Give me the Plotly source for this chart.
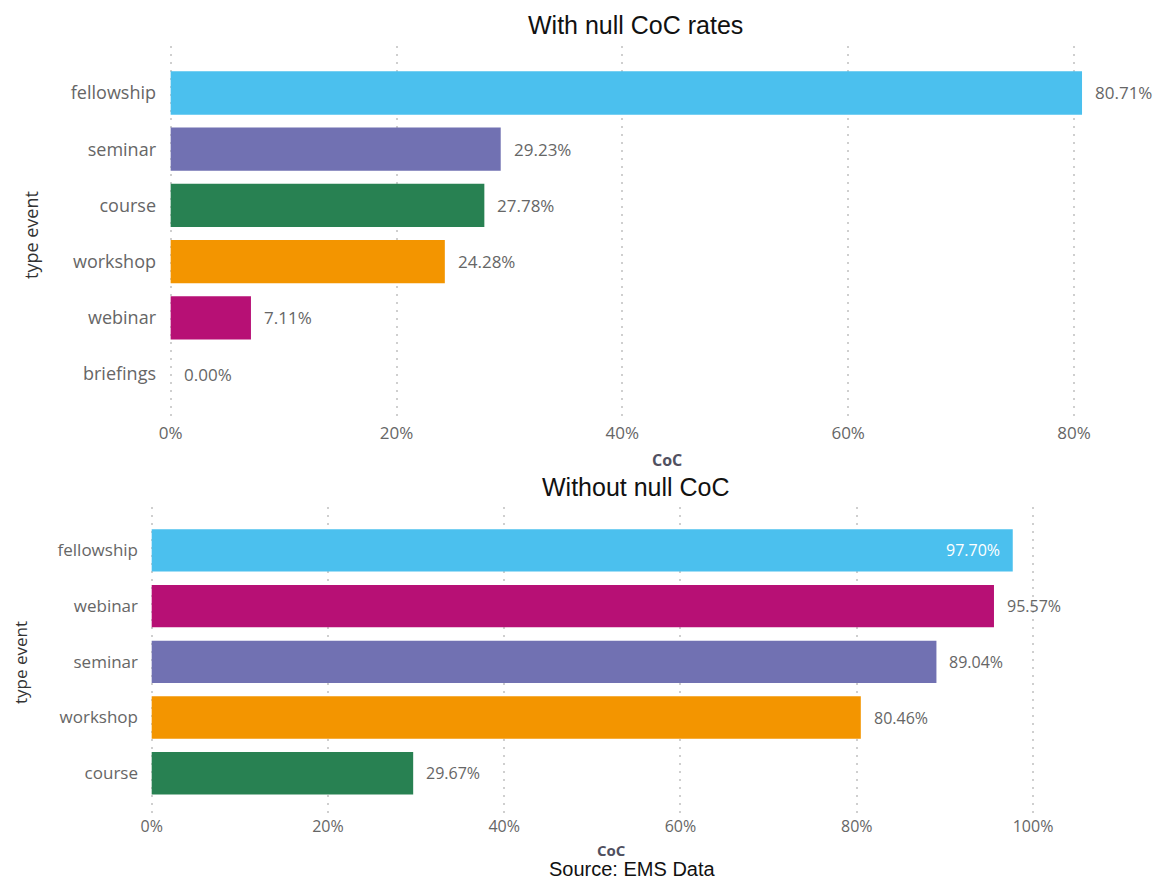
import plotly.graph_objects as go

W, H = 1164, 879

# CoC rate per event type, including events with null CoC (percent)
null_types = ["fellowship", "seminar", "course", "workshop", "webinar", "briefings"]
null_rates = [80.71, 29.23, 27.78, 24.28, 7.11, 0.00]

# CoC rate per event type, null CoC excluded (percent)
nonnull_types = ["fellowship", "webinar", "seminar", "workshop", "course"]
nonnull_rates = [97.70, 95.57, 89.04, 80.46, 29.67]

x_ticks = [0, 20, 40, 60, 80, 100]
x_tick_labels = ["0%", "20%", "40%", "60%", "80%", "100%"]

palette = {
    "fellowship": "#4BC0EE",
    "seminar": "#7171B2",
    "course": "#288152",
    "workshop": "#F39500",
    "webinar": "#B71075",
    "briefings": "#9E9E9E",
}

LABEL_FONT = "Open Sans, DejaVu Sans, sans-serif"
TITLE_FONT = "Liberation Sans, Arial, sans-serif"
GREY = "#666666"


def fx(px):
    return px / W


def fy(py):
    return 1 - py / H


fig = go.Figure()

fig.add_trace(go.Bar(
    x=null_rates, y=null_types, orientation="h",
    marker=dict(color=[palette[t] for t in null_types], line=dict(width=0)),
    width=0.77, xaxis="x", yaxis="y", showlegend=False,
))
fig.add_trace(go.Bar(
    x=nonnull_rates, y=nonnull_types, orientation="h",
    marker=dict(color=[palette[t] for t in nonnull_types], line=dict(width=0)),
    width=0.76, xaxis="x2", yaxis="y2", showlegend=False,
))

annotations = []

# value labels, top panel (all outside the bar end)
for t, v in zip(null_types, null_rates):
    annotations.append(dict(
        x=v, y=t, xref="x", yref="y", text=f"{v:.2f}%",
        xanchor="left", yanchor="middle", xshift=11, showarrow=False,
        font=dict(family=LABEL_FONT, size=17, color=GREY),
    ))

# value labels, bottom panel (the longest one sits inside the bar)
top_val = max(nonnull_rates)
for t, v in zip(nonnull_types, nonnull_rates):
    inside = v == top_val
    annotations.append(dict(
        x=v, y=t, xref="x2", yref="y2", text=f"{v:.2f}%",
        xanchor="right" if inside else "left", yanchor="middle",
        xshift=-11 if inside else 11, showarrow=False,
        font=dict(family=LABEL_FONT, size=16, color="white" if inside else GREY),
    ))

# panel titles, axis titles and source note
annotations += [
    dict(x=fx(636), y=fy(25), xref="paper", yref="paper", text="With null CoC rates",
         showarrow=False, xanchor="center", yanchor="middle",
         font=dict(family=TITLE_FONT, size=25, color="#111111")),
    dict(x=fx(636), y=fy(487), xref="paper", yref="paper", text="Without null CoC",
         showarrow=False, xanchor="center", yanchor="middle",
         font=dict(family=TITLE_FONT, size=25, color="#111111")),
    dict(x=fx(667), y=fy(460), xref="paper", yref="paper", text="<b>CoC</b>",
         showarrow=False, xanchor="center", yanchor="middle",
         font=dict(family=LABEL_FONT, size=16, color="#505060")),
    dict(x=fx(611), y=fy(850), xref="paper", yref="paper", text="<b>CoC</b>",
         showarrow=False, xanchor="center", yanchor="middle",
         font=dict(family=LABEL_FONT, size=15, color="#505060")),
    dict(x=fx(31), y=fy(235), xref="paper", yref="paper", text="type event",
         showarrow=False, textangle=-90, xanchor="center", yanchor="middle",
         font=dict(family=LABEL_FONT, size=18, color="#333333")),
    dict(x=fx(20), y=fy(663), xref="paper", yref="paper", text="type event",
         showarrow=False, textangle=-90, xanchor="center", yanchor="middle",
         font=dict(family=LABEL_FONT, size=17, color="#333333")),
    dict(x=fx(632), y=fy(869), xref="paper", yref="paper", text="Source: EMS Data",
         showarrow=False, xanchor="center", yanchor="middle",
         font=dict(family=TITLE_FONT, size=20, color="#111111")),
]

common_x = dict(
    showgrid=True, gridcolor="#CFCFCF", griddash="2px,6px", gridwidth=1.5,
    zeroline=False, showline=False, ticks="",
    tickmode="array", tickvals=x_ticks, ticktext=x_tick_labels,
)
common_y = dict(
    type="category", showgrid=False, zeroline=False, showline=False, ticks="",
)

fig.update_layout(
    width=W, height=H,
    margin=dict(l=0, r=0, t=0, b=0),
    paper_bgcolor="white", plot_bgcolor="white",
    bargap=0.2,
    xaxis=dict(**common_x, domain=[fx(157), fx(1150)], range=[-1.21, 86.73],
               anchor="y", tickfont=dict(family=LABEL_FONT, size=17, color=GREY)),
    yaxis=dict(**common_y, domain=[fy(421), fy(46)], range=[5.836, -0.836],
               categoryorder="array", categoryarray=null_types, anchor="x",
               tickfont=dict(family=LABEL_FONT, size=18, color=GREY)),
    xaxis2=dict(**common_x, domain=[fx(139), fx(1100)], range=[-1.44, 107.6],
                anchor="y2", tickfont=dict(family=LABEL_FONT, size=16, color=GREY)),
    yaxis2=dict(**common_y, domain=[fy(815), fy(507)], range=[4.75, -0.78],
                categoryorder="array", categoryarray=nonnull_types, anchor="x2",
                tickfont=dict(family=LABEL_FONT, size=17, color=GREY)),
    annotations=annotations,
)

fig.write_html("out.html")
